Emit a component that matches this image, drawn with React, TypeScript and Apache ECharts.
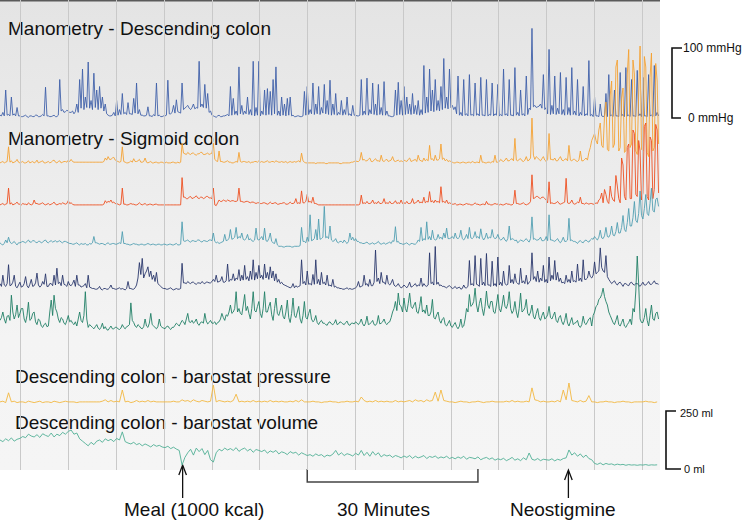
import React, { useEffect, useRef } from "react";
import * as echarts from "echarts";

// sample spacing, minutes
const MANO_STEP = 0.25;
const BARO_STEP = 0.5;

// Manometry - descending colon (mmHg)
const dcManometry = [
  4,3,8,3,40,4,5,3,30,4,6,3,15,3,3,2,
  2,3,4,2,1,3,3,2,2,4,4,2,2,3,5,3,44,3,3,2,2,3,4,2,2,4,55,10,12,8,9,11,10,8,
  8,10,6,9,20,8,55,14,70,12,30,15,80,14,25,12,64,15,40,12,45,14,30,10,20,6,4,3,3,4,8,3,
  25,4,12,5,35,6,8,5,22,6,6,5,28,7,50,6,12,4,4,3,3,4,16,3,3,2,5,3,50,3,4,2,2,3,
  3,4,54,6,6,8,18,7,26,9,8,7,50,12,14,16,18,14,12,15,20,13,15,14,81,16,20,15,48,14,35,8,10,4,
  3,2,1,3,4,2,2,3,3,4,5,3,45,4,28,5,10,4,73,6,18,5,10,6,30,5,12,4,81,3,15,4,81,3,
  10,5,40,4,42,5,38,4,55,6,73,4,10,3,30,4,20,3,28,4,30,3,4,2,2,3,3,2,2,3,38,4,45,5,
  12,6,50,5,20,6,45,5,15,7,48,6,25,5,54,4,20,5,35,4,8,5,25,4,12,5,30,4,6,3,18,4,
  4,3,3,4,55,4,10,5,57,4,12,6,50,5,20,4,48,5,15,4,52,4,10,3,3,2,2,3,40,4,51,5,25,4,
  45,5,30,6,20,5,35,6,18,5,25,4,12,5,75,7,30,8,70,10,40,9,55,11,25,10,45,12,85,14,30,13,70,15,
  18,12,16,6,60,4,8,3,55,4,6,3,62,4,5,3,50,4,6,3,58,4,4,3,55,3,5,4,50,3,6,4,48,3,
  5,3,70,4,6,3,55,4,4,3,72,4,8,3,40,4,6,3,60,5,14,12,128,16,18,15,16,17,20,14,62,12,15,6,
  98,5,18,6,60,5,14,6,65,5,12,4,58,5,15,4,72,5,10,4,55,3,8,4,45,3,6,4,82,3,5,2,
  30,3,3,2,20,3,2,3,35,2,62,3,4,2,40,3,3,2,65,3,5,2,72,3,4,2,55,3,3,2,68,3,6,2,
  58,3,3,2,62,3,4,2,75,3,8,3,
];

// Manometry - sigmoid colon, channel 1 (mmHg)
const sigmoid1 = [
  3,4,5,3,4,5,26,4,6,3,4,5,8,4,3,4,
  5,3,3,4,6,3,4,5,3,4,7,3,4,5,6,3,3,4,5,3,4,6,7,4,3,5,6,3,4,5,5,4,7,5,
  8,5,4,4,4,4,4,4,4,4,4,4,4,4,4,4,4,4,4,4,4,4,4,5,10,7,12,8,8,10,11,7,
  6,5,4,5,26,5,4,3,3,4,6,4,9,5,5,6,8,4,4,5,10,4,3,4,5,3,3,4,4,3,3,4,4,3,
  3,4,3,3,3,4,4,3,3,4,3,4,31,17,16,15,18,16,15,17,17,15,14,16,16,18,18,15,15,16,17,15,16,17,
  31,8,6,5,20,5,5,4,4,5,6,4,4,3,3,4,5,4,18,5,4,5,5,4,4,5,3,4,4,5,5,4,6,4,
  5,4,4,5,6,4,4,5,5,4,6,5,4,4,5,4,4,5,3,4,5,4,4,5,4,5,6,4,17,6,4,3,3,3,
  3,3,3,3,2,3,3,3,3,3,3,2,2,3,3,3,3,3,3,3,3,2,2,3,3,3,3,3,3,4,4,5,
  6,5,5,7,18,7,8,6,6,8,10,5,5,7,9,6,6,5,14,6,5,7,8,5,6,7,12,6,5,6,7,5,6,5,
  7,6,5,8,10,5,6,7,8,5,14,7,6,5,10,6,8,6,28,8,9,6,14,7,7,9,30,8,10,6,8,5,6,5,
  4,3,3,4,4,3,3,4,4,3,3,4,4,3,5,4,3,4,4,3,14,4,4,3,3,4,4,3,5,4,14,4,4,5,
  8,6,5,7,10,6,6,8,9,6,38,7,6,8,9,6,5,7,12,6,7,10,67,14,8,12,10,8,6,9,12,7,5,8,
  45,8,8,7,10,6,6,9,12,7,6,8,9,6,28,7,6,8,8,6,5,7,20,6,6,8,10,7,18,25,35,40,
  45,35,30,50,60,28,25,70,90,22,20,100,120,25,30,140,150,20,25,95,110,18,20,130,165,25,30,150,130,20,15,100,170,22,
  20,155,140,18,12,125,160,20,25,145,120,30,
];

// channel 2
const sigmoid2 = [
  3,4,5,3,4,5,27,4,6,3,4,5,7,4,4,3,
  5,4,4,3,6,4,3,4,10,5,5,4,4,5,6,4,3,4,5,3,4,5,7,4,3,4,5,4,6,5,4,5,9,5,
  6,4,3,3,3,3,3,3,3,3,3,3,3,3,3,3,3,3,3,3,3,3,3,4,9,6,8,7,10,6,7,5,
  5,4,3,4,27,4,4,3,3,4,5,4,4,3,3,4,6,4,3,4,5,3,3,4,4,3,3,4,4,3,3,3,3,3,
  3,3,3,3,3,3,3,3,3,3,3,3,42,14,14,12,12,14,15,12,13,14,16,13,12,14,14,12,13,15,15,13,13,12,
  27,3,2,6,10,8,8,10,9,8,10,9,8,9,9,8,8,9,27,8,8,7,7,8,8,7,6,7,7,6,5,6,6,5,
  5,6,6,5,4,5,7,5,5,6,6,4,4,5,5,6,6,4,4,5,7,5,5,6,12,5,6,5,23,6,6,8,18,7,
  8,6,14,5,5,4,3,3,3,3,3,3,3,3,3,3,3,3,3,3,3,3,3,3,3,3,3,3,3,3,3,3,
  3,3,3,4,17,5,6,5,8,5,5,6,10,5,6,5,8,5,5,6,12,5,6,5,8,5,5,6,9,5,6,5,10,5,
  6,5,8,5,5,6,12,5,6,7,10,6,7,6,14,6,8,7,22,7,9,6,10,7,8,6,29,7,8,6,10,5,6,5,
  4,4,5,3,3,4,4,3,3,4,5,4,4,3,3,4,6,4,4,3,3,4,4,3,8,4,4,3,3,4,5,4,4,3,
  4,3,3,4,5,4,4,3,3,5,24,5,5,4,4,5,6,4,3,4,5,8,46,12,13,15,15,13,12,14,14,12,10,6,
  36,5,6,5,5,6,8,5,4,5,6,7,41,6,5,6,10,5,4,5,7,6,14,5,5,4,6,5,4,5,5,4,
  4,6,5,10,12,20,6,25,18,8,5,30,15,10,8,45,30,12,6,70,60,15,10,85,90,12,12,110,105,18,15,95,80,10,
  20,115,120,15,10,100,95,12,25,118,110,20,
];

// channel 3
const sigmoid3 = [
  6,4,3,5,10,6,14,7,5,6,8,5,3,6,6,7,
  8,7,6,8,10,7,7,9,9,7,6,8,8,6,7,9,10,7,6,8,9,7,8,9,7,8,9,7,6,8,8,7,6,5,
  5,4,4,5,6,4,3,5,4,4,5,3,3,5,4,6,15,6,6,5,4,5,5,4,3,5,6,4,4,5,5,4,
  4,5,6,5,22,5,5,4,4,3,3,4,5,4,4,3,3,4,4,3,3,4,5,4,3,4,4,3,3,4,4,3,3,4,
  4,3,3,4,4,3,3,4,5,3,3,4,36,9,8,9,10,8,7,9,9,8,8,10,10,8,7,9,9,8,8,10,10,9,
  20,8,6,7,5,6,7,8,18,9,10,12,25,11,12,14,28,12,15,13,20,11,10,12,18,10,12,9,8,10,27,11,10,12,
  15,10,27,9,8,12,20,8,6,5,12,3,1,1,1,0,0,1,1,1,1,0,0,1,1,1,1,2,28,8,8,6,14,8,
  46,9,10,12,25,10,40,11,12,14,58,13,15,12,30,10,8,9,12,7,6,8,8,6,10,7,5,8,20,10,14,9,
  12,8,8,6,6,5,5,6,7,5,4,5,6,4,5,6,8,5,4,5,6,4,5,6,7,5,9,8,29,7,8,5,5,4,
  4,5,6,4,3,5,5,4,4,6,10,8,28,9,12,10,36,11,15,10,24,12,10,11,18,12,14,11,20,13,27,12,12,13,
  15,12,20,13,12,14,24,12,10,13,18,12,28,13,12,14,22,13,15,12,26,14,10,13,20,12,14,13,25,14,12,13,18,12,
  10,11,14,10,8,12,30,10,12,11,9,10,6,8,10,9,8,10,12,9,7,12,43,11,12,10,10,11,14,9,9,10,15,9,
  46,10,10,9,8,10,12,8,6,9,14,8,8,10,41,9,10,8,8,7,5,8,9,7,6,9,10,8,7,10,12,11,
  15,12,10,14,24,13,12,16,28,15,14,18,30,17,16,22,35,20,20,28,45,25,22,35,55,30,30,42,65,38,35,48,80,45,
  40,55,75,48,45,62,84,52,50,68,70,58,
];

// channel 4
const sigmoid4 = [
  12,8,24,10,8,12,39,9,10,14,24,8,6,10,14,7,
  8,12,22,9,6,11,18,8,9,13,27,10,7,9,15,11,26,8,8,12,12,9,24,10,34,12,14,9,24,11,10,8,15,10,
  9,12,17,8,24,10,10,7,8,9,12,6,24,7,6,5,5,4,4,5,8,4,3,5,5,4,4,6,10,5,5,4,
  4,5,6,4,5,4,3,5,15,5,5,4,4,6,10,20,42,25,48,20,26,30,36,22,30,18,24,15,28,12,10,8,6,5,
  5,4,4,5,6,4,3,4,5,4,4,5,41,13,13,12,15,13,12,14,14,12,11,13,13,12,15,13,12,14,14,13,13,15,
  18,15,24,14,15,16,22,14,14,16,40,15,18,17,26,16,20,18,32,16,24,17,38,18,22,16,30,18,46,17,28,19,38,20,
  24,18,40,20,28,18,36,20,30,16,26,14,18,12,14,11,10,9,8,7,6,7,12,6,9,7,8,9,46,12,15,10,30,11,
  12,10,25,11,46,12,18,10,28,12,14,10,24,9,10,8,18,7,8,6,6,5,5,4,4,5,6,4,5,4,4,5,
  6,8,15,7,8,9,24,10,12,8,18,9,9,14,60,15,20,12,28,14,14,11,24,12,10,13,18,10,8,9,12,8,6,7,
  10,8,6,9,14,7,8,10,12,8,10,9,20,8,12,9,8,10,56,12,14,10,65,11,14,9,10,8,8,7,6,8,9,7,
  5,6,8,5,6,7,4,5,10,6,6,8,45,10,12,9,52,11,10,8,48,10,14,9,55,10,10,8,44,9,12,8,50,10,
  14,9,30,12,10,11,38,13,18,12,26,14,12,11,34,13,16,12,24,11,14,16,56,18,22,15,30,14,20,16,38,14,18,13,
  50,16,24,18,45,17,28,15,20,13,14,12,24,14,18,13,30,15,16,14,40,16,20,15,46,18,18,20,30,22,20,24,
  43,26,28,30,63,35,30,28,52,22,18,15,12,14,16,12,10,13,14,11,8,12,12,10,9,13,14,11,10,12,12,10,8,11,
  14,10,10,12,15,11,11,13,16,12,12,11,
];

// channel 5
const sigmoid5 = [
  18,22,30,20,14,24,25,18,54,30,20,26,40,22,28,35,
  35,20,15,25,44,18,20,28,30,16,12,20,18,10,8,12,14,9,10,30,47,25,54,35,30,20,15,22,20,14,12,18,25,16,
  18,14,12,16,10,20,30,18,15,25,59,20,8,12,10,8,6,9,12,7,5,8,14,6,9,5,4,7,10,6,6,8,
  8,6,5,7,12,8,6,9,10,12,43,18,15,10,8,12,10,7,6,9,20,10,8,14,28,12,10,8,6,9,20,10,8,7,
  6,9,10,7,5,8,8,11,14,12,10,14,18,16,12,20,28,16,15,18,14,16,20,13,11,15,16,14,28,17,13,15,18,14,
  14,16,12,15,16,20,28,22,18,26,24,30,40,28,30,35,59,30,35,28,26,40,55,32,38,28,20,35,59,32,30,38,45,28,
  22,35,59,30,30,38,44,26,18,35,50,28,25,32,40,24,20,30,47,22,15,28,50,25,22,30,38,20,14,25,45,22,20,28,
  34,20,16,18,25,15,12,16,18,14,14,12,11,15,16,13,12,14,19,12,13,16,15,13,12,15,17,12,11,14,14,13,
  16,14,12,15,20,13,10,14,24,12,13,15,18,12,11,14,25,13,14,16,20,14,12,15,16,22,30,35,45,32,57,40,38,30,
  50,35,30,42,57,38,35,40,44,30,28,38,52,30,33,28,40,25,25,30,48,22,20,26,30,18,14,20,22,12,10,14,18,10,
  8,12,15,9,6,10,20,8,10,20,35,30,55,38,40,45,64,40,30,42,50,35,25,38,60,40,35,45,45,30,28,40,55,35,
  30,40,54,38,35,42,59,35,28,32,45,30,22,35,57,30,32,36,48,28,25,30,40,24,20,28,35,22,18,25,30,20,22,26,
  38,22,20,25,30,18,15,22,25,16,12,18,28,14,10,16,22,12,14,15,18,10,8,12,24,14,12,16,20,22,10,25,
  30,38,40,48,50,55,64,52,45,40,30,25,20,15,12,18,25,12,10,15,20,10,8,12,15,20,12,35,30,60,110,70,20,15,
  15,22,35,18,10,25,40,20,18,28,30,20,
];

// Descending colon - barostat pressure (mmHg)
const barostatPressure = [
  3,4,2,16,3,4,2,3,
  3,2,4,3,2,3,4,2,3,3,2,4,3,2,3,4,3,
  3,3,2,3,3,3,3,3,3,3,3,4,6,3,5,3,
  4,3,20,3,4,2,3,5,3,4,3,5,3,4,3,3,3,
  3,3,3,4,3,3,6,4,5,3,6,4,3,5,4,3,4,
  27,3,5,4,3,4,3,5,14,3,4,3,4,3,5,3,4,
  3,4,3,5,3,4,3,4,3,3,4,3,5,3,6,3,3,
  3,4,3,3,2,3,3,4,3,3,2,3,3,4,3,3,
  4,3,10,5,3,4,3,5,3,4,3,4,3,3,5,3,4,
  3,4,5,3,6,4,5,3,6,4,5,17,4,20,5,4,3,
  3,2,3,4,3,3,2,3,3,4,3,2,3,3,4,3,3,
  3,3,4,3,5,3,4,3,3,4,3,23,6,5,3,4,3,
  3,4,3,5,3,20,6,30,5,4,3,5,3,4,12,3,
  3,2,3,3,4,3,3,2,3,3,4,3,3,2,3,3,3,
  3,4,3,3,2,3,
];

// Descending colon - barostat volume (ml)
const barostatVolume = [
  125,118,130,122,134,120,128,132,
  140,135,150,142,138,148,136,152,145,140,155,138,150,144,158,150,162,
  168,150,155,130,120,110,100,115,105,120,125,115,130,122,128,118,
  132,125,160,118,112,108,115,105,110,100,108,102,95,105,98,102,95,
  92,98,88,94,86,80,17,50,70,85,60,90,75,88,62,80,40,
  30,70,85,78,90,82,88,80,92,76,85,90,78,86,72,84,80,
  75,82,68,78,72,80,65,74,70,62,75,68,72,60,70,64,58,
  62,55,65,58,62,52,60,56,64,80,60,70,58,66,62,56,
  68,60,80,58,72,55,75,60,70,52,62,56,60,50,58,54,48,
  56,50,58,46,55,48,52,58,45,54,50,56,46,52,48,55,45,
  50,44,52,46,55,42,50,48,44,52,40,46,50,42,48,38,44,
  40,46,36,42,50,38,44,36,48,40,69,42,38,45,36,42,40,
  38,44,35,42,38,45,48,82,60,70,55,65,50,60,45,40,
  24,20,26,18,24,20,22,17,21,18,20,16,19,17,18,16,18,
  17,19,16,18,17,18,
];

const traces = [dcManometry, sigmoid1, sigmoid2, sigmoid3, sigmoid4, sigmoid5, barostatPressure, barostatVolume];
const traceSteps = [MANO_STEP, MANO_STEP, MANO_STEP, MANO_STEP, MANO_STEP, MANO_STEP, BARO_STEP, BARO_STEP];
const traceColors = ["#3e5ea8", "#f5a030", "#ee4c1c", "#4d9db1", "#27346a", "#1d7d63", "#f2b63c", "#4cae93"];

// vertical reference lines (minutes)
const gridTimes = [3.64, 12.04, 20.44, 28.84, 37.24, 45.64, 54.04, 62.44, 70.84, 79.24, 87.64, 96.04, 104.44, 112.84];
const X_MAX = 116;

const sectionTitles = [
  "Manometry - Descending colon",
  "Manometry - Sigmoid colon",
  "Descending colon - barostat pressure",
  "Descending colon - barostat volume",
];
const eventNames = ["Meal (1000 kcal)", "Neostigmine"];
const eventTimes = [32.1, 99.9];
const timeBar = { start: 54, end: 84, label: "30 Minutes" };
const pressureScale = { top: 100, bottom: 0, topLabel: "100 mmHg", bottomLabel: "0 mmHg" };
const volumeScale = { top: 250, bottom: 0, topLabel: "250 ml", bottomLabel: "0 ml" };

// layout: pixel of each trace's zero and pixels per unit
const PLOT_W = 660;
const PLOT_H = 470;
const traceLayout = [
  { zero: 118, k: 0.7 },
  { zero: 165, k: 0.7 },
  { zero: 207, k: 0.7 },
  { zero: 247, k: 0.7 },
  { zero: 292, k: 0.7 },
  { zero: 333, k: 0.7 },
  { zero: 404, k: 0.7 },
  { zero: 469, k: 0.232 },
];

const FONT = "'Liberation Sans', Arial, Helvetica, sans-serif";

export default function App() {
  const ref = useRef<HTMLDivElement>(null);

  useEffect(() => {
    if (!ref.current) return;
    const chart = echarts.init(ref.current, null, { renderer: "svg" });

    const yAxes = traceLayout.map((l) => ({
      type: "value" as const,
      min: (l.zero - PLOT_H) / l.k,
      max: l.zero / l.k,
      show: false,
      splitLine: { show: false },
    }));

    const series: any[] = [
      {
        type: "line",
        data: [[0, 0]],
        yAxisIndex: 0,
        symbol: "none",
        lineStyle: { opacity: 0 },
        silent: true,
        z: 1,
        markLine: {
          silent: true,
          symbol: ["none", "none"],
          label: { show: false },
          lineStyle: { color: "#c9c9c9", width: 1, type: "solid" },
          data: gridTimes.map((t) => ({ xAxis: t })),
        },
      },
    ];
    traces.forEach((vals, idx) => {
      const step = traceSteps[idx];
      series.push({
        type: "line",
        data: vals.map((v, i) => [i * step, v]),
        yAxisIndex: idx,
        symbol: "none",
        showSymbol: false,
        silent: true,
        z: 2 + idx,
        lineStyle: { color: traceColors[idx], width: 1, opacity: 0.88 },
      });
    });

    chart.setOption({
      animation: false,
      grid: {
        left: 0,
        top: 0,
        width: PLOT_W,
        height: PLOT_H,
        show: true,
        borderWidth: 0,
        backgroundColor: new echarts.graphic.LinearGradient(0, 0, 0, 1, [
          { offset: 0, color: "#e4e4e4" },
          { offset: 0.72, color: "#f4f4f4" },
          { offset: 1, color: "#f5f5f5" },
        ]),
      },
      xAxis: { type: "value", min: 0, max: X_MAX, show: false, splitLine: { show: false } },
      yAxis: yAxes,
      series,
    });

    const xp = (t: number) => chart.convertToPixel({ xAxisIndex: 0 } as any, t) as unknown as number;
    const yp = (a: number, v: number) => chart.convertToPixel({ yAxisIndex: a } as any, v) as unknown as number;

    const text = (t: string, x: number, y: number, size: number, align = "left") => ({
      type: "text",
      x,
      y,
      silent: true,
      style: {
        text: t,
        fill: "#111",
        fontSize: size,
        fontFamily: FONT,
        align,
        verticalAlign: "middle",
        textAlign: align,
        textVerticalAlign: "middle",
      },
    });

    const graphics: any[] = [
      { type: "rect", shape: { x: 0, y: 0, width: PLOT_W, height: 1.5 }, style: { fill: "#5a5a5a" }, silent: true },
      text(sectionTitles[0], 8, 28, 19),
      text(sectionTitles[1], 8, 138, 19),
      text(sectionTitles[2], 15, 376, 19),
      text(sectionTitles[3], 15, 422, 19),
    ];

    // pressure scale bar
    const pT = yp(0, pressureScale.top);
    const pB = yp(0, pressureScale.bottom);
    graphics.push({
      type: "polyline",
      shape: { points: [[682, pT], [672, pT], [672, pB], [681, pB]] },
      style: { stroke: "#111", lineWidth: 1.6, fill: "none" },
      silent: true,
    });
    graphics.push(text(pressureScale.topLabel, 683, pT, 12));
    graphics.push(text(pressureScale.bottomLabel, 688, pB, 12));

    // volume scale bar
    const vT = yp(7, volumeScale.top);
    const vB = yp(7, volumeScale.bottom);
    graphics.push({
      type: "polyline",
      shape: { points: [[676, vT], [666, vT], [666, vB], [681, vB]] },
      style: { stroke: "#111", lineWidth: 1.6, fill: "none" },
      silent: true,
    });
    graphics.push(text(volumeScale.topLabel, 680, vT + 1.5, 11));
    graphics.push(text(volumeScale.bottomLabel, 684, vB, 11));

    // event arrows
    const tips = [465, 470];
    const textLeft = [124, 510];
    eventTimes.forEach((t, i) => {
      const x = xp(t);
      graphics.push({
        type: "line",
        shape: { x1: x, y1: 498, x2: x, y2: tips[i] + 1 },
        style: { stroke: "#111", lineWidth: 1.3 },
        silent: true,
      });
      graphics.push({
        type: "polyline",
        shape: { points: [[x - 3.8, tips[i] + 10], [x, tips[i]], [x + 3.8, tips[i] + 10]] },
        style: { stroke: "#111", lineWidth: 1.3, fill: "none" },
        silent: true,
      });
      graphics.push(text(eventNames[i], textLeft[i], 509, 19));
    });

    // 30 minute bar
    const b0 = xp(timeBar.start);
    const b1 = xp(timeBar.end);
    graphics.push({
      type: "polyline",
      shape: { points: [[b0, 469], [b0, 482], [b1, 482], [b1, 469]] },
      style: { stroke: "#444", lineWidth: 1.5, fill: "none" },
      silent: true,
    });
    graphics.push(text(timeBar.label, 337, 509, 19));

    chart.setOption({ graphic: graphics });

    return () => chart.dispose();
  }, []);

  return (
    <div
      ref={ref}
      style={{ position: "absolute", left: 0, top: 0, width: 750, height: 523, background: "#fff" }}
    />
  );
}
